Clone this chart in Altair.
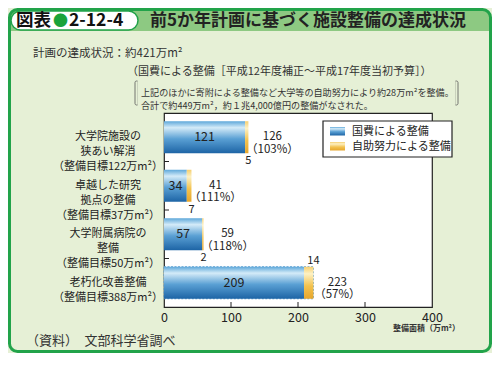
import altair as alt
import pandas as pd

FONT = "Noto Sans CJK JP"

# ---- data ----
categories = ["大学院施設", "研究拠点", "附属病院", "老朽化改善"]
cat_labels = [
    "大学院施設の\n狭あい解消\n（整備目標122万m²）",
    "卓越した研究\n拠点の整備\n（整備目標37万m²）",
    "大学附属病院の\n整備\n（整備目標50万m²）",
    "老朽化改善整備\n（整備目標388万m²）",
]
national = [121, 34, 57, 209]
self_effort = [5, 7, 2, 14]
total = [126, 41, 59, 223]
pct = [103, 111, 118, 57]
target = [122, 37, 50, 388]
tick_values = [0, 100, 200, 300, 400]
inner_ticks = [100, 200, 300]

df = pd.DataFrame({
    "cat": categories,
    "label": cat_labels,
    "national": national,
    "self": self_effort,
    "total": total,
    "pct": pct,
    "target": target,
})
df["total_lbl"] = [f"{t}\n（{p}%）" for t, p in zip(total, pct)]

W, H = 268, 194
X0, Y0 = 164, 113  # page position of plot origin


def px(p):
    return p - X0


def py(p):
    return p - Y0


def txt(text, x, y, size=11, align="left", weight="normal", color="#222", lh=None):
    kw = dict(align=align, baseline="middle", fontSize=size, fontWeight=weight,
              color=color, font=FONT, lineBreak="\n")
    if lh:
        kw["lineHeight"] = lh
    return alt.Chart(pd.DataFrame({"t": [text]})).mark_text(**kw).encode(
        x=alt.value(px(x)), y=alt.value(py(y)), text="t:N")


def box(x1, y1, x2, y2, **kw):
    return alt.Chart(pd.DataFrame({"a": [0]})).mark_rect(**kw).encode(
        x=alt.value(px(x1)), x2=alt.value(px(x2)),
        y=alt.value(py(y1)), y2=alt.value(py(y2)))


xscale = alt.Scale(domain=[0, 400], nice=False)
yscale = alt.Scale(domain=categories, paddingInner=0, paddingOuter=0)
Y = alt.Y("cat:N", scale=yscale, axis=None)

blue_grad = alt.Gradient(
    gradient="linear", x1=0, x2=0, y1=0, y2=1,
    stops=[alt.GradientStop(color="#5ea8da", offset=0),
           alt.GradientStop(color="#d4ebf8", offset=0.2),
           alt.GradientStop(color="#5aa0d4", offset=0.55),
           alt.GradientStop(color="#1d64a5", offset=1)])
orange_grad = alt.Gradient(
    gradient="linear", x1=0, x2=0, y1=0, y2=1,
    stops=[alt.GradientStop(color="#f5cf70", offset=0),
           alt.GradientStop(color="#fdf1c4", offset=0.22),
           alt.GradientStop(color="#f3c24e", offset=0.6),
           alt.GradientStop(color="#e6a62c", offset=1)])

base = alt.Chart(df)

# frame / header
header = box(9.5, 9.5, 490.5, 31, fill="#8dc982", cornerRadiusTopLeft=8, cornerRadiusTopRight=8)
border = box(9.5, 9.5, 490.5, 351.5, fill="transparent", stroke="#22a34a", strokeWidth=3, cornerRadius=8)
pill = box(11, 11, 138, 30, fill="white", stroke="#22a34a", strokeWidth=1.5, cornerRadius=10)
t_zu = txt("図表", 16, 21, size=17.5, weight="bold", color="#111")
t_dot = txt("●", 53, 21, size=15, color="#1aa33a")
t_num = txt("2-12-4", 69, 21, size=17.5, weight="bold", color="#111")
t_title = txt("前5か年計画に基づく施設整備の達成状況", 150, 21, size=17, weight="bold", color="#222")

t1 = txt("計画の達成状況：約421万m²", 33, 54, size=11.5, color="#333")
t2 = txt("（国費による整備［平成12年度補正～平成17年度当初予算］）", 127, 72, size=11, color="#333")
t3 = txt("上記のほかに寄附による整備など大学等の自助努力により約28万m²を整備。\n合計で約449万m²，約１兆4,000億円の整備がなされた。",
         141, 93, size=9.1, color="#333", lh=12.5)
brL = box(135, 81, 138, 105, fill="transparent", stroke="#555", strokeWidth=0.8,
          cornerRadiusTopLeft=3, cornerRadiusBottomLeft=3)
brR = box(455, 81, 458, 105, fill="transparent", stroke="#555", strokeWidth=0.8,
          cornerRadiusTopRight=3, cornerRadiusBottomRight=3)
brLc = box(137.5, 80, 140, 106, fill="#e6f0d6")
brRc = box(453, 80, 455.5, 106, fill="#e6f0d6")

# bars
dashed = base.transform_filter(alt.datum.pct < 100).mark_bar(
    size=32, fill="white", stroke="#5b9fd0", strokeWidth=1, strokeDash=[2, 1.5]
).encode(x=alt.X("total:Q", scale=xscale), x2=alt.value(W), y=Y)

bars_nat = base.mark_bar(size=32, color=blue_grad).encode(
    x=alt.X("national:Q", scale=xscale,
            axis=alt.Axis(values=tick_values, domain=False, ticks=False, grid=False,
                          labelFontSize=12.5, labelColor="#222", labelFont=FONT,
                          labelPadding=4, labelFlush=False, title=None)),
    x2=alt.datum(0), y=Y)
bars_self = base.mark_bar(size=32, color=orange_grad).encode(
    x=alt.X("national:Q", scale=xscale), x2="total:Q", y=Y)

lbl_in = base.mark_text(fontSize=12.5, font=FONT, color="#222").encode(
    x=alt.X("mid:Q", scale=xscale), y=Y, text="national:Q"
).transform_calculate(mid="datum.national / 2")

lbl_self_below = base.transform_filter(alt.datum.pct >= 100).mark_text(
    fontSize=11, font=FONT, color="#222", dy=24).encode(
    x=alt.X("total:Q", scale=xscale), y=Y, text="self:Q")
lbl_self_above = base.transform_filter(alt.datum.pct < 100).mark_text(
    fontSize=11, font=FONT, color="#222", dy=-22).encode(
    x=alt.X("total:Q", scale=xscale), y=Y, text="self:Q")

lbl_total = base.mark_text(fontSize=11.5, font=FONT, color="#222", dx=24,
                           lineBreak="\n", lineHeight=12.5).encode(
    x=alt.X("total:Q", scale=xscale), y=Y, text="total_lbl:N")

cat_text = base.mark_text(fontSize=11, font=FONT, color="#222", align="center",
                          lineBreak="\n", lineHeight=15).encode(
    x=alt.value(px(108)), y=Y, text="label:N")

# inner ticks
tdf = pd.DataFrame({"v": inner_ticks})
xticks = alt.Chart(tdf).mark_rule(color="#222", strokeWidth=1).encode(
    x=alt.X("v:Q", scale=xscale), y=alt.value(H - 5), y2=alt.value(H))
yticks = base.transform_filter(alt.datum.pct >= 100).mark_rule(color="#222", strokeWidth=1).encode(
    y=alt.Y("cat:N", scale=yscale, axis=None, bandPosition=1),
    x=alt.value(0), x2=alt.value(5))

# legend
leg_box = box(323, 121, 452, 157, fill="white", stroke="#222", strokeWidth=1.2)
leg_b = box(330, 127, 345, 135.5, fill=blue_grad)
leg_o = box(330, 142, 345, 150.5, fill=orange_grad)
leg_t1 = txt("国費による整備", 352, 131.5, size=11)
leg_t2 = txt("自助努力による整備", 352, 146.5, size=11)

axis_title = txt("整備面積（万m²）", 460, 329, size=8, align="right", weight="bold", color="#333")
source = txt("（資料）　文部科学省調べ", 26, 341, size=13, color="#333")

chart = alt.layer(
    header, pill, t_zu, t_dot, t_num, t_title,
    t1, t2, brL, brR, brLc, brRc, t3,
    dashed, bars_nat, bars_self, lbl_in, lbl_self_below, lbl_self_above, lbl_total,
    cat_text, xticks, yticks,
    leg_box, leg_b, leg_o, leg_t1, leg_t2,
    axis_title, source, border,
).properties(
    width=W, height=H,
    autosize=alt.AutoSizeParams(type="none"),
    padding={"left": 156, "top": 105, "right": 60, "bottom": 46},
    background="#e6f0d6",
).configure_view(fill="white", stroke="#222", strokeWidth=1.2)

chart.save("out.html", embed_options={"renderer": "svg", "actions": False})
